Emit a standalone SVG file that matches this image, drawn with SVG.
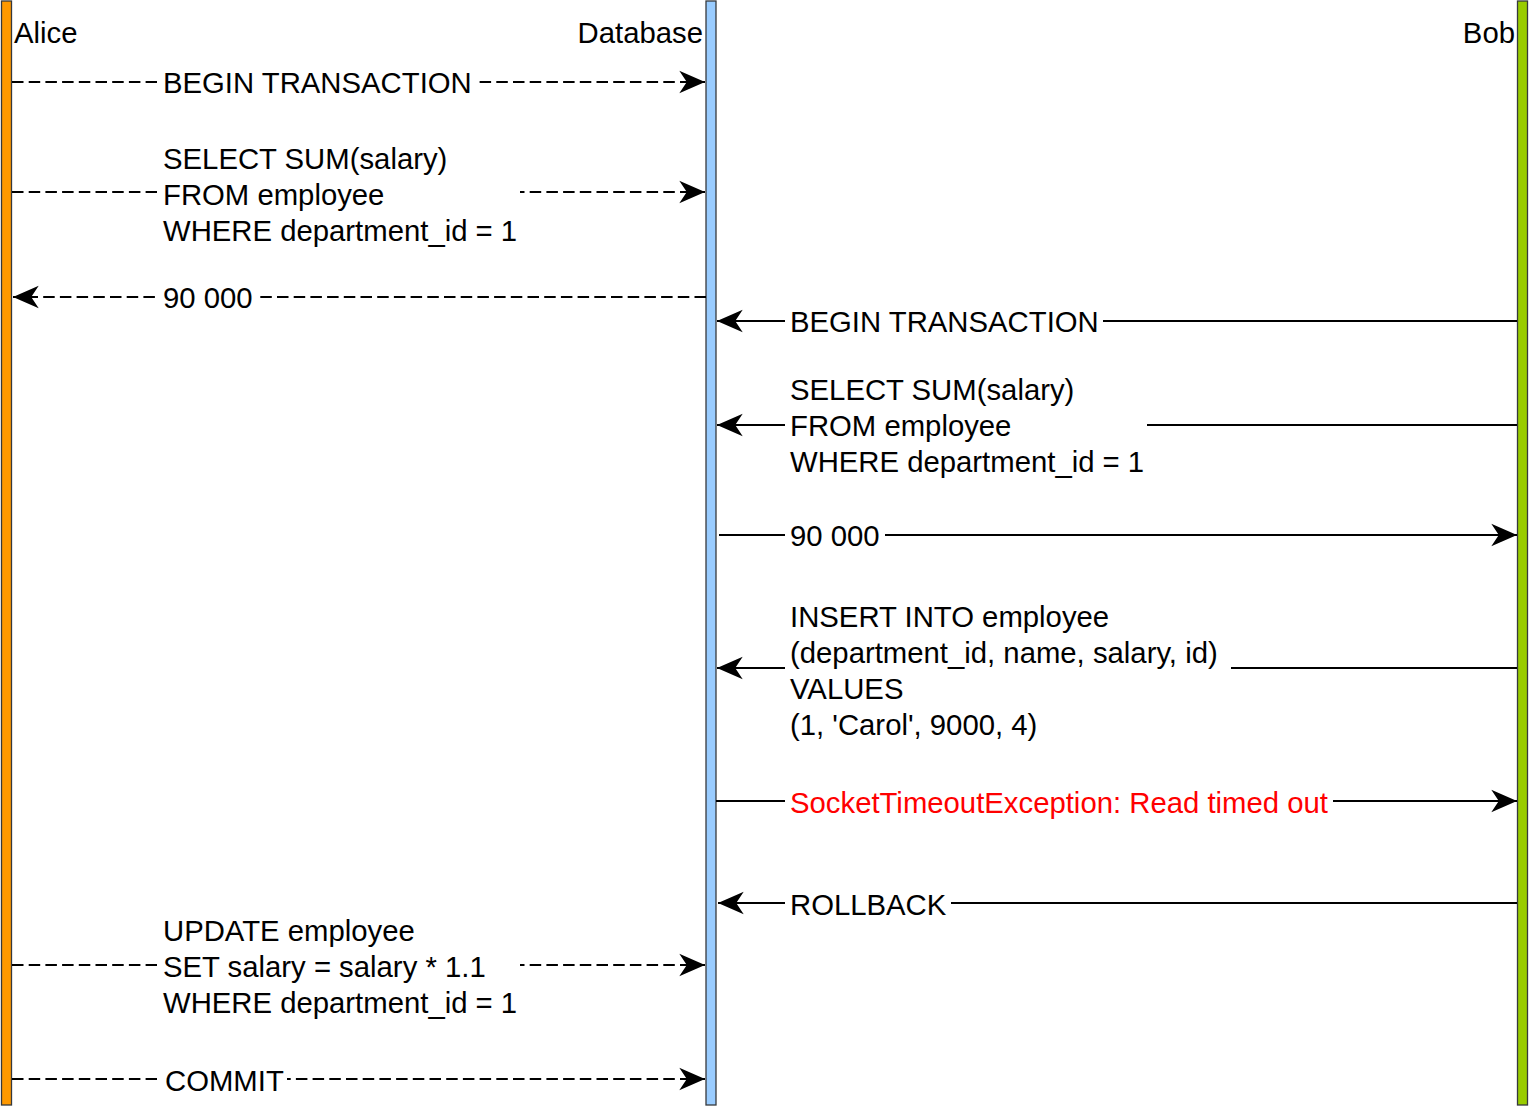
<svg xmlns="http://www.w3.org/2000/svg" width="1529" height="1107" viewBox="0 0 1529 1107">
<style>
  text { font-family: "Liberation Sans", Arial, sans-serif; font-size: 29.3px; fill: #000; }
  .err { fill: #FF0000; }
  .ln { stroke: #000; stroke-width: 2; fill: none; }
  .dash { stroke-dasharray: 11.5 5.2; }
  .bg { fill: #fff; }
  .bar { stroke: #36393d; stroke-width: 1.3; }
</style>
<defs>
  <marker id="arr" markerUnits="userSpaceOnUse" markerWidth="30" markerHeight="30" viewBox="-26 -13 28 26" refX="0" refY="0" orient="auto">
    <path d="M0,0 L-24,-10.5 L-17,0 L-24,10.5 Z" fill="#000"/>
  </marker>
</defs>
<rect width="1529" height="1107" fill="#fff"/>

<g id="alice">
  <rect class="bar" x="1.5" y="1" width="10" height="1104" fill="#FF9900"/>
  <text x="14" y="43">Alice</text>
</g>
<g id="database">
  <rect class="bar" x="706" y="1" width="10" height="1104" fill="#99CCFF"/>
  <text x="703" y="43" text-anchor="end">Database</text>
</g>
<g id="bob">
  <rect class="bar" x="1517.5" y="1" width="10" height="1104" fill="#99CC00"/>
  <text x="1515" y="43" text-anchor="end">Bob</text>
</g>

<g id="connectors">
  <g id="m1">
    <path class="ln dash" d="M12,82 H705" marker-end="url(#arr)"/>
    <rect class="bg" x="157" y="66" width="320" height="34"/>
    <text x="163" y="93">BEGIN TRANSACTION</text>
  </g>
  <g id="m2">
    <path class="ln dash" d="M12,192 H705" marker-end="url(#arr)"/>
    <rect class="bg" x="157" y="140" width="363" height="110"/>
    <text x="163" y="169">SELECT SUM(salary)</text>
    <text x="163" y="205">FROM employee</text>
    <text x="163" y="241">WHERE department_id = 1</text>
  </g>
  <g id="m3">
    <path class="ln dash" d="M706,297 H13" marker-end="url(#arr)"/>
    <rect class="bg" x="155" y="281" width="104" height="34"/>
    <text x="163" y="308">90 000</text>
  </g>
  <g id="m4">
    <path class="ln" d="M1517,321 H717" marker-end="url(#arr)"/>
    <rect class="bg" x="785" y="305" width="318" height="34"/>
    <text x="790" y="332">BEGIN TRANSACTION</text>
  </g>
  <g id="m5">
    <path class="ln" d="M1517,425 H717" marker-end="url(#arr)"/>
    <rect class="bg" x="785" y="371" width="362" height="110"/>
    <text x="790" y="400">SELECT SUM(salary)</text>
    <text x="790" y="436">FROM employee</text>
    <text x="790" y="472">WHERE department_id = 1</text>
  </g>
  <g id="m6">
    <path class="ln" d="M719,535 H1517" marker-end="url(#arr)"/>
    <rect class="bg" x="785" y="519" width="100" height="34"/>
    <text x="790" y="546">90 000</text>
  </g>
  <g id="m7">
    <path class="ln" d="M1517,668 H717" marker-end="url(#arr)"/>
    <rect class="bg" x="785" y="598" width="446" height="146"/>
    <text x="790" y="627">INSERT INTO employee</text>
    <text x="790" y="663">(department_id, name, salary, id)</text>
    <text x="790" y="699">VALUES</text>
    <text x="790" y="735">(1, 'Carol', 9000, 4)</text>
  </g>
  <g id="m8">
    <path class="ln" d="M716,801 H1517" marker-end="url(#arr)"/>
    <rect class="bg" x="785" y="785" width="548" height="34"/>
    <text class="err" x="790" y="813">SocketTimeoutException: Read timed out</text>
  </g>
  <g id="m9">
    <path class="ln" d="M1517,903 H718" marker-end="url(#arr)"/>
    <rect class="bg" x="785" y="887" width="166" height="34"/>
    <text x="790" y="915">ROLLBACK</text>
  </g>
  <g id="m10">
    <path class="ln dash" d="M12,965 H705" marker-end="url(#arr)"/>
    <rect class="bg" x="157" y="912" width="363" height="110"/>
    <text x="163" y="941">UPDATE employee</text>
    <text x="163" y="977">SET salary = salary * 1.1</text>
    <text x="163" y="1013">WHERE department_id = 1</text>
  </g>
  <g id="m11">
    <path class="ln dash" d="M12,1079 H705" marker-end="url(#arr)"/>
    <rect class="bg" x="157" y="1063" width="130" height="34"/>
    <text x="165" y="1091">COMMIT</text>
  </g>
</g>
</svg>
